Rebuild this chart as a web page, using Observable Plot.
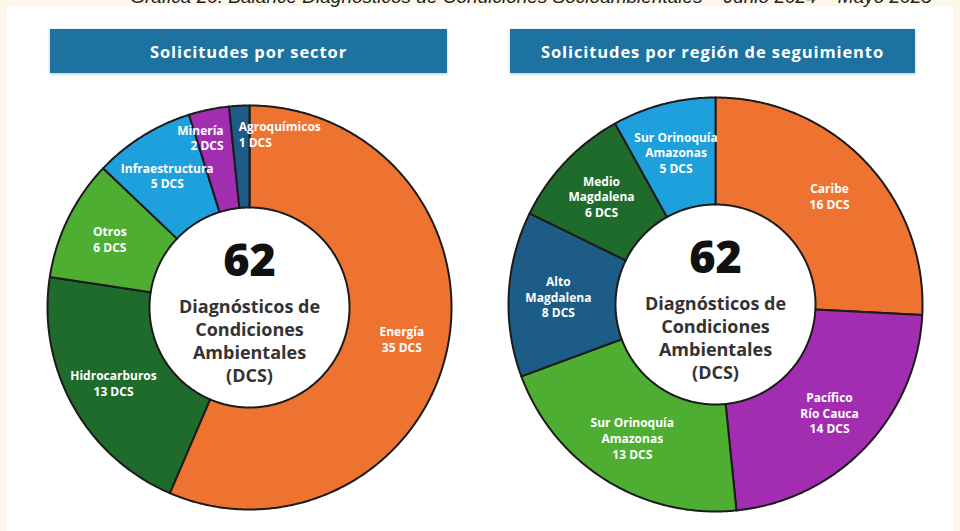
<!DOCTYPE html>
<html><head><meta charset="utf-8">
<script src="https://cdn.jsdelivr.net/npm/d3@7"></script>
<script src="https://cdn.jsdelivr.net/npm/@observablehq/plot@0.6"></script>
<style>
body{margin:0;background:#fcf7ea;}
#wrap{position:relative;width:960px;height:531px;overflow:hidden;background:#fcf7ea;}
#panel{position:absolute;left:7px;top:6px;width:946px;height:530px;background:#fff;}
#title{position:absolute;top:-14px;left:0;width:1062px;text-align:center;font:italic 19px "Liberation Sans",Arial,sans-serif;color:#222;white-space:nowrap;}
.hdr{position:absolute;top:29px;height:44px;background:#1d72a0;color:#fff;font:700 16.5px "Open Sans",sans-serif;letter-spacing:0.9px;display:flex;align-items:center;justify-content:center;box-shadow:0 1px 3px rgba(0,0,0,.25);}
.donut{position:absolute;}
.donut text.lbl{letter-spacing:0.5px;}
.donut text.ctr{letter-spacing:0.6px;}
</style></head>
<body>
<div id="wrap">
  <div id="panel"></div>
  <div id="title">Gráfica 20. Balance Diagnósticos de Condiciones Socioambientales – Junio 2024 – Mayo 2025</div>
  <div class="hdr" style="left:50px;width:397px;">Solicitudes por sector</div>
  <div class="hdr" style="left:510px;width:405px;">Solicitudes por región de seguimiento</div>
  <div id="d1" class="donut" style="left:34px;top:92px;"></div>
  <div id="d2" class="donut" style="left:500px;top:89px;"></div>
</div>
<script>
// ---- data ----
const sectores = ["Energía", "Hidrocarburos", "Otros", "Infraestructura", "Minería", "Agroquímicos"];
const sectoresDCS = [35, 13, 6, 5, 2, 1];
const sectoresColores = ["#ee7331", "#1e6b2c", "#4eae31", "#1ea0dc", "#a22db0", "#1d5c86"];

const regiones = ["Caribe", "Pacífico\nRío Cauca", "Sur Orinoquía\nAmazonas", "Alto\nMagdalena", "Medio\nMagdalena", "Sur Orinoquía\nAmazonas"];
const regionesDCS = [16, 14, 13, 8, 6, 5];
const regionesColores = ["#ee7331", "#a22db0", "#4eae31", "#1d5c86", "#1e6b2c", "#1ea0dc"];

const centroTexto = "Diagnósticos de\nCondiciones\nAmbientales\n(DCS)";

function donut(el, names, values, colors, opts) {
  const S = 430;
  const Rpx = opts.Rpx, inner = 100 / Rpx;
  const half = (S / 2) / Rpx;
  const arcs = d3.pie().sort(null)(values);
  const total = d3.sum(values);
  const pts = [];
  arcs.forEach((a, i) => {
    const n = Math.max(4, Math.ceil((a.endAngle - a.startAngle) / (Math.PI / 360)));
    for (let k = 0; k <= n; k++) {
      const t = a.startAngle + (a.endAngle - a.startAngle) * k / n;
      pts.push({key: i, x: Math.sin(t), y: Math.cos(t)});
    }
    for (let k = n; k >= 0; k--) {
      const t = a.startAngle + (a.endAngle - a.startAngle) * k / n;
      pts.push({key: i, x: inner * Math.sin(t), y: inner * Math.cos(t)});
    }
    pts.push({key: i, x: Math.sin(a.startAngle), y: Math.cos(a.startAngle)});
  });
  const labels = arcs.map((a, i) => {
    const f = values[i] / total;
    const m = (a.startAngle + a.endAngle) / 2;
    const lr = f < 0.05 ? 0.86 : opts.lr;
    const anchor = f < 0.02 ? "start" : f < 0.05 ? "end" : "middle";
    const shift = anchor === "start" ? -0.01 : anchor === "end" ? 0.045 : 0;
    return {
      text: names[i] + "\n" + values[i] + " DCS",
      x: lr * Math.sin(m) + shift,
      y: lr * Math.cos(m),
      anchor
    };
  });
  const labelMark = (anchor) => Plot.text(labels.filter(d => d.anchor === anchor), {
    x: "x", y: "y", text: "text", fill: "white", fontSize: 12, fontWeight: 700,
    fontFamily: "Open Sans", lineHeight: 1.3, textAnchor: anchor, className: "lbl"
  });
  const chart = Plot.plot({
    width: S, height: S, margin: 0,
    x: {domain: [-half, half], axis: null},
    y: {domain: [-half, half], axis: null},
    color: {type: "ordinal", domain: d3.range(values.length), range: colors},
    style: {background: "transparent", overflow: "visible"},
    marks: [
      Plot.line(pts, {x: "x", y: "y", z: "key", fill: "key", stroke: "#1b1b1b", strokeWidth: 2, strokeLinejoin: "round", curve: "linear"}),
      labelMark("middle"), labelMark("start"), labelMark("end"),
      Plot.text([String(total)], {text: d => d, frameAnchor: "middle", dy: -46, fontSize: 45, fontWeight: 800, fontFamily: "Open Sans", fill: "#111"}),
      Plot.text([centroTexto], {text: d => d, frameAnchor: "middle", dy: 33, fontSize: 18, fontWeight: 700, fontFamily: "Open Sans", fill: "#333", lineHeight: 1.28, className: "ctr"})
    ]
  });
  document.getElementById(el).appendChild(chart);
}

donut("d1", sectores, sectoresDCS, sectoresColores, {Rpx: 202, lr: 0.77});
donut("d2", regiones, regionesDCS, regionesColores, {Rpx: 207, lr: 0.76});
</script>
</body></html>
